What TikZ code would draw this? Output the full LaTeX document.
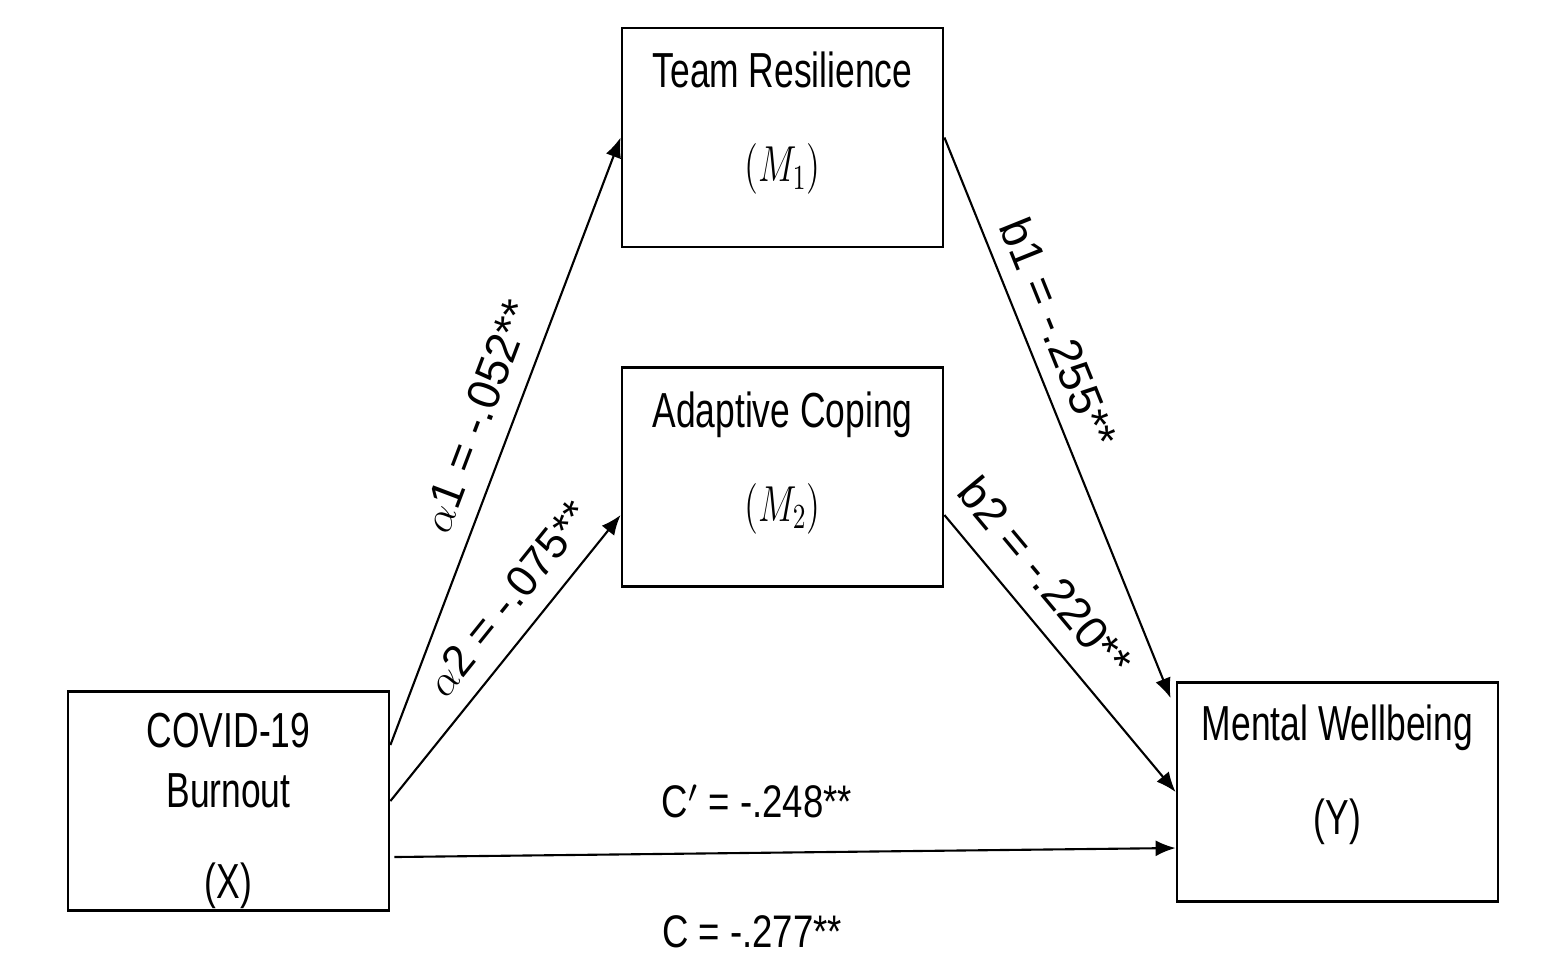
\documentclass[tikz,border=0pt]{standalone}
\usepackage{fontspec}
\setmainfont{Liberation Sans}[FakeStretch=0.72]
\newfontfamily\lblfont{Liberation Sans}[FakeStretch=0.8]
\newfontfamily\slopefont{Liberation Sans}
\usepackage{amsmath}
\usepackage{tikz}
\usetikzlibrary{positioning,arrows.meta}
\newcommand{\sqzmath}[1]{\scalebox{0.72}[1]{#1}}
\tikzset{c-box/.style={rectangle, minimum width=3.21cm, minimum height=2.19cm, align=center, inner ysep=0pt, text height=1.2cm, text depth=0.32cm, draw=black, line width=0.8pt, font=\fontsize{14}{17}\selectfont},
arrow/.style={line width=0.6pt,-{Latex[length=2mm,width=1.6mm]}},
c-lbl/.style={font=\lblfont\fontsize{13}{15}\selectfont, inner sep=1pt},
c-slope/.style={font=\slopefont\fontsize{13}{15}\selectfont, inner sep=1pt, sloped}}

\begin{document}
\begin{tikzpicture}
\useasboundingbox (0,0) rectangle (15.48,-9.57);
\node (nm1) [c-box] at (7.825,-1.375) {Team Resilience\\[0.34cm]\sqzmath{$(M_1)$}};
\node (nm2) [c-box] at (7.825,-4.77) {Adaptive Coping\\[0.34cm]\sqzmath{$(M_2)$}};
\node (nx) [c-box, text height=2.0cm, text depth=0.06cm] at (2.285,-8.01) {COVID-19\\Burnout\\[0.31cm](X)};
\node (ny) [c-box, text height=1.2cm, text depth=0.36cm] at (13.375,-7.92) {Mental Wellbeing\\[0.34cm](Y)};
\draw [arrow] ([yshift=0.56cm]nx.east) -- node[c-slope, above=1.5mm, pos=0.52] {$\alpha$1 = -.052**} (nm1.west);
\draw [arrow] (nx.east) -- node[c-slope, above=1.5mm, pos=0.63, font=\slopefont\fontsize{12.5}{15}\selectfont] {$\alpha$2 = -.075**} ([yshift=-0.38cm]nm2.west);
\draw [arrow] (nm1.east) -- node[c-slope, above=1.2mm, pos=0.37] {b1 = -.255**} ([shift={(-0.05cm,-0.17cm)}]ny.north west);
\draw [arrow] ([yshift=-0.38cm]nm2.east) -- node[c-slope, above=1.7mm, pos=0.31] {b2 =\ -.220**} (ny.west);
\draw [arrow] ([shift={(0.04cm,-0.56cm)}]nx.east) -- node[c-lbl, above=0.3cm, pos=0.464] {C$'$ = -.248**} node[c-lbl, below=0.58cm, pos=0.458] {C = -.277**} ([yshift=-0.56cm]ny.west);
\end{tikzpicture}
\end{document}
